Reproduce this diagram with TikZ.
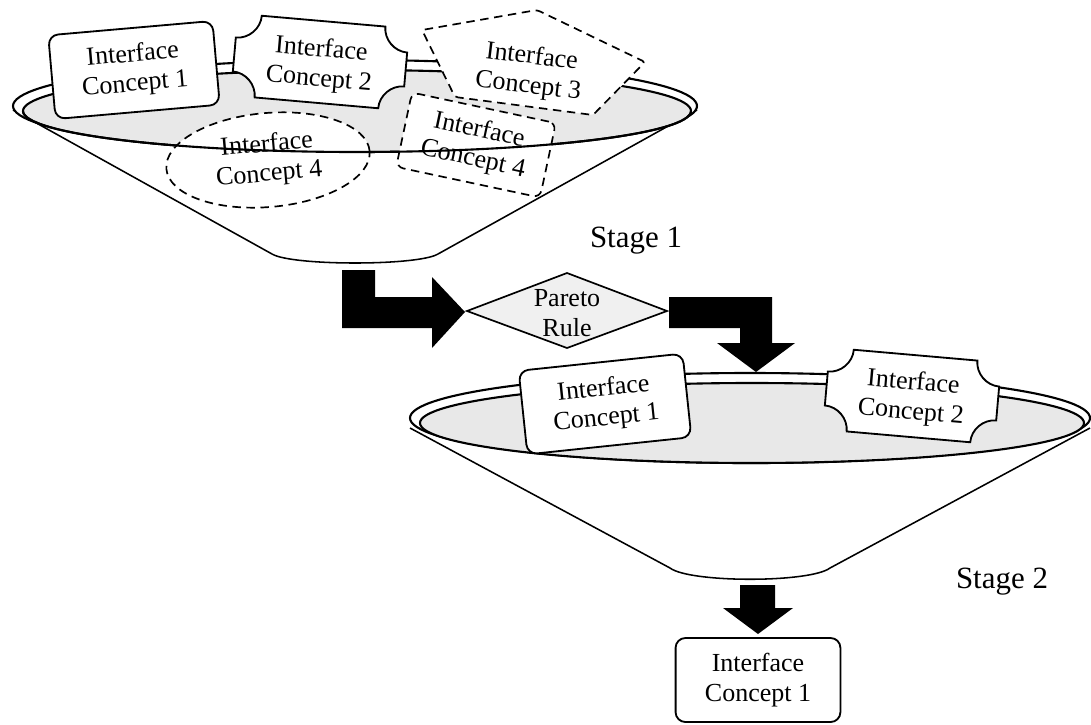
\documentclass[tikz,border=0pt]{standalone}
\usepackage{fontspec}
\setmainfont{Liberation Serif}
\usetikzlibrary{shapes.geometric, positioning}

\newcommand\concfont{\fontsize{18.5}{21}\selectfont}
\newcommand\stagefont{\fontsize{22}{26}\selectfont}

\tikzset{
  notchbox/.pic={
    \draw[box] (-62,-41) -- (62,-41) .. controls (62,-28) and (73,-17) .. (86,-17)
      -- (86,17) .. controls (73,17) and (62,28) .. (62,41)
      -- (-62,41) .. controls (-62,28) and (-73,17) .. (-86,17)
      -- (-86,-17) .. controls (-73,-17) and (-62,-28) .. (-62,-41) -- cycle;
  }
}

\begin{document}
\begin{tikzpicture}[x=0.025cm, y=-0.025cm,
  rim/.style={line width=1.5pt},
  cone/.style={line width=1.1pt, fill=white},
  box/.style={draw, line width=1.3pt, fill=white},
  cbox/.style={box, rounded corners=7pt, minimum width=4.12cm, minimum height=2.1cm, align=center, font=\concfont},
  dbox/.style={draw, line width=1.2pt, fill=white, dash pattern=on 6pt off 4pt, align=center, font=\concfont, inner sep=0pt},
  lbl/.style={align=center, font=\concfont, inner sep=0pt},
  bigarrow/.style={fill=black}]
  \useasboundingbox (0,0) rectangle (1091,724);

  % funnel, stage 1
  \draw[cone] (13,110) -- (272,254) .. controls (292,266) and (418,266) .. (438,254) -- (697,110);
  \draw[rim, fill=white] (355,106) ellipse [x radius=342, y radius=46];
  \draw[rim, fill=gray!18] (357,111) ellipse [x radius=334, y radius=41];

  % concept 4, twice
  \node[dbox, ellipse, minimum width=5.1cm, minimum height=2.35cm, rotate=5] (ic4e) at (268,160) {Interface\\Concept 4};
  \node[dbox, rounded corners=5pt, minimum width=3.675cm, minimum height=1.9cm, rotate=-12] (ic4r) at (476,145) {Interface\\Concept 4};

  % front edge of the rim
  \begin{scope}
    \clip (0,111) rectangle (720,170);
    \draw[rim] (357,111) ellipse [x radius=334, y radius=41];
  \end{scope}

  % concepts 1, 2, 3
  \node[cbox, rotate=5] (ic1) at (134,70) {Interface\\Concept 1};
  \pic[rotate=-5] at (320,62) {notchbox};
  \node[lbl, rotate=-5] (ic2) at (320,65) {Interface\\Concept 2};
  \draw[dbox, rounded corners=2pt] (422,30) -- (537,10) -- (645,62) -- (593,115) -- (455,97) -- cycle;
  \node[lbl, rotate=-7] (ic3) at (530,72) {Interface\\Concept 3};

  \node[font=\stagefont] (stage1) at (636,241) {Stage 1};

  % pareto rule
  \draw[line width=1.2pt, fill=gray!12] (467,311) -- (567,273) -- (667,311) -- (567,348) -- cycle;
  \node[lbl] (pareto) at (567,313) {Pareto\\Rule};

  % funnel, stage 2
  \draw[cone] (410,428) -- (670,568) .. controls (690,583) and (810,583) .. (830,568) -- (1090,428);
  \draw[rim, fill=white] (750,418) ellipse [x radius=340, y radius=45];
  \draw[rim, fill=gray!18] (752,423) ellipse [x radius=332, y radius=40];

  \node[cbox, rotate=6] (ic1b) at (605,404) {Interface\\Concept 1};
  \pic[rotate=-5] at (912,396) {notchbox};
  \node[lbl, rotate=-5] (ic2b) at (912,398) {Interface\\Concept 2};

  \node[font=\stagefont] (stage2) at (1002,582) {Stage 2};

  % result
  \node[cbox] (ic1out) at (758,680) {Interface\\Concept 1};

  % block arrows
  \fill[bigarrow] (342,270) -- (375,270) -- (375,297) -- (432,297) -- (432,277) -- (465,312)
    -- (432,348) -- (432,328) -- (342,328) -- cycle;
  \fill[bigarrow] (669,297) -- (772,297) -- (772,343) -- (795,343) -- (756,372) -- (717,343)
    -- (740,343) -- (740,328) -- (669,328) -- cycle;
  \fill[bigarrow] (740,585) -- (775,585) -- (775,608) -- (793,608) -- (758,634) -- (723,608)
    -- (740,608) -- cycle;
\end{tikzpicture}
\end{document}
